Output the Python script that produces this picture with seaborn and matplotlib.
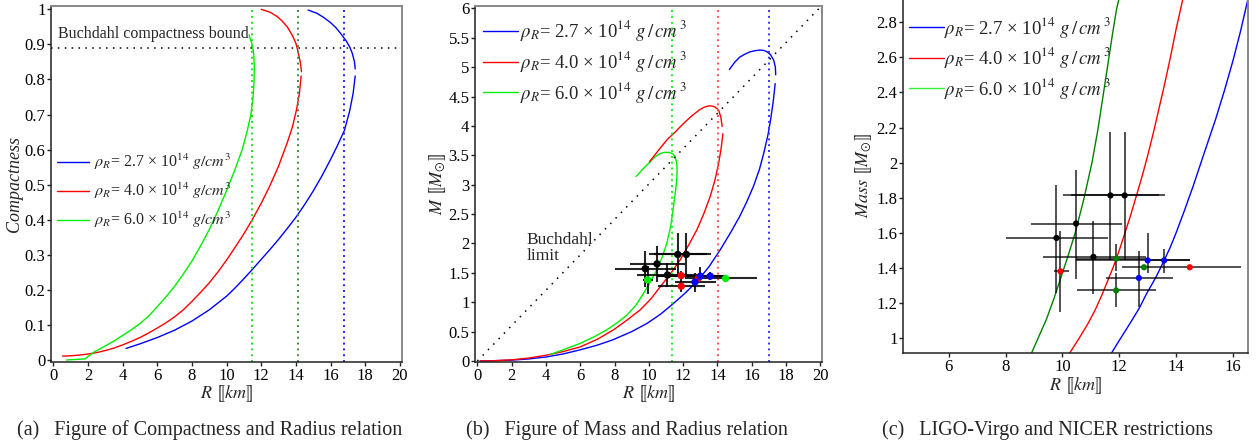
import matplotlib
matplotlib.use("Agg")
import numpy as np
import matplotlib.pyplot as plt
import seaborn as sns
from matplotlib.ticker import FuncFormatter, MultipleLocator

sns.set_theme(style="white")
plt.rcParams['font.family'] = ['Liberation Serif', 'DejaVu Serif']
plt.rcParams['mathtext.fontset'] = 'stix'

# ---- panel (a): compactness vs radius ----
a_blue_lo_R = [4.2, 5, 6, 7, 8, 9, 10, 10.5, 11, 11.5, 12, 12.5, 13, 13.5, 14, 14.5, 15, 15.5, 16,
               16.4, 16.8, 17.1, 17.3, 17.42]
a_blue_lo_C = [0.033, 0.046, 0.064, 0.085, 0.111, 0.143, 0.182, 0.206, 0.232, 0.259, 0.287, 0.315,
               0.344, 0.375, 0.407, 0.443, 0.482, 0.525, 0.572, 0.612, 0.655, 0.71, 0.76, 0.81]
a_blue_hi_R = [17.42, 17.38, 17.25, 17.1, 16.9, 16.6, 16.3, 16.0, 15.6, 15.2, 14.7]
a_blue_hi_C = [0.83, 0.85, 0.875, 0.893, 0.91, 0.93, 0.948, 0.962, 0.977, 0.989, 0.998]
a_red_lo_R = [0.54, 1, 1.5, 2, 2.5, 3, 3.5, 4, 4.5, 5, 5.5, 6, 6.5, 7, 7.5, 8, 8.5, 9, 9.5, 10,
              10.5, 11, 11.5, 12, 12.5, 13, 13.5, 13.8, 14.04, 14.2, 14.3]
a_red_lo_C = [0.011, 0.012, 0.014, 0.017, 0.021, 0.027, 0.034, 0.043, 0.053, 0.064, 0.077, 0.091,
              0.106, 0.123, 0.143, 0.167, 0.193, 0.22, 0.251, 0.285, 0.322, 0.36, 0.402, 0.447,
              0.497, 0.553, 0.62, 0.665, 0.715, 0.76, 0.81]
a_red_hi_R = [14.32, 14.25, 14.12, 14.0, 13.8, 13.5, 13.2, 12.9, 12.5, 12.0]
a_red_hi_C = [0.822, 0.85, 0.88, 0.903, 0.925, 0.95, 0.967, 0.98, 0.992, 1.0]
a_green_R = [0.77, 1.83, 2.3, 3, 3.5, 4, 4.5, 5, 5.5, 6, 6.5, 7, 7.5, 8, 8.5, 9, 9.5, 10, 10.5,
             10.9, 11.2, 11.4, 11.52, 11.58, 11.6, 11.57, 11.5, 11.3]
a_green_C = [0.0, 0.003, 0.021, 0.04, 0.054, 0.07, 0.086, 0.104, 0.125, 0.152, 0.18, 0.21, 0.245,
             0.282, 0.325, 0.372, 0.425, 0.483, 0.545, 0.6, 0.655, 0.7, 0.745, 0.79, 0.836, 0.87,
             0.895, 0.927]
a_vlines = [11.48, 14.1, 16.8]
a_vline_colors = ['#22dd22', '#3d8c3d', '#2222ff']
buchdahl_C = 0.889

# ---- panel (b): mass vs radius ----
b_blue_lo_R = [0.16, 1, 2, 3, 4.05, 5, 6, 7, 7.9, 9, 9.9, 10.7, 11.44, 12.1, 12.8, 13.5, 14.16,
               14.8, 15.3, 15.7, 16.1, 16.45, 16.7, 16.95, 17.1, 17.25, 17.37]
b_blue_lo_M = [0.0, 0.005, 0.015, 0.035, 0.07, 0.12, 0.19, 0.27, 0.36, 0.5, 0.64, 0.8, 0.98, 1.15,
               1.35, 1.6, 1.89, 2.2, 2.46, 2.7, 2.97, 3.26, 3.53, 3.85, 4.1, 4.4, 4.72]
b_blue_hi_R = [17.4, 17.38, 17.28, 17.1, 16.9, 16.7, 16.5, 16.2, 15.9, 15.6, 15.3, 15.0, 14.7]
b_blue_hi_M = [4.87, 5.0, 5.12, 5.21, 5.26, 5.285, 5.29, 5.28, 5.26, 5.22, 5.17, 5.08, 4.96]
b_red_lo_R = [0.16, 1, 2, 3, 4.05, 5, 6, 7, 7.94, 8.7, 9.5, 10.1, 10.66, 11.25, 11.83, 12.3, 12.8,
              13.2, 13.58, 13.85, 14.07, 14.22, 14.32]
b_red_lo_M = [0.0, 0.005, 0.02, 0.05, 0.10, 0.16, 0.24, 0.37, 0.53, 0.69, 0.87, 1.05, 1.26, 1.48,
              1.72, 1.96, 2.23, 2.5, 2.8, 3.07, 3.36, 3.62, 3.87]
b_red_hi_R = [14.28, 14.2, 14.07, 13.87, 13.68, 13.48, 13.25, 12.99, 12.5, 12.02, 11.55, 11.05,
              10.55, 10.04]
b_red_hi_M = [3.99, 4.15, 4.27, 4.32, 4.34, 4.34, 4.32, 4.28, 4.17, 4.04, 3.9, 3.76, 3.58, 3.39]
b_green_R = [4.24, 5, 6, 6.8, 7.55, 8.2, 8.72, 9.25, 9.69, 10.1, 10.47, 10.78, 11.05, 11.28, 11.44,
             11.56, 11.63, 11.65, 11.63, 11.54, 11.38, 11.15, 10.9, 10.66, 10.35, 10.08, 9.7, 9.26]
b_green_M = [0.11, 0.19, 0.30, 0.41, 0.53, 0.66, 0.78, 0.95, 1.15, 1.35, 1.55, 1.77, 2.0, 2.3, 2.63,
             2.9, 3.08, 3.25, 3.36, 3.48, 3.53, 3.55, 3.55, 3.53, 3.47, 3.39, 3.28, 3.14]
b_vlines = [11.38, 14.03, 17.0]
b_vline_colors = ['#22ee22', '#ff5555', '#3333ff']
buchdahl_R = [0, 20]
buchdahl_M = [0, 6.02]

# ---- panel (c): zoom with observations ----
c_green_R = [8.91, 9.17, 9.43, 9.7, 9.96, 10.2, 10.45, 10.75, 11.04, 11.25, 11.43, 11.6, 11.75,
             11.9, 11.99]
c_green_M = [0.914, 1.01, 1.105, 1.225, 1.352, 1.47, 1.6, 1.79, 2.0, 2.19, 2.38, 2.56, 2.72, 2.87,
             2.933]
c_red_R = [10.25, 10.55, 10.87, 11.15, 11.4, 11.6, 11.8, 12.0, 12.2, 12.4, 12.6, 12.8, 13.0, 13.2,
           13.4, 13.6, 13.8, 14.0, 14.24]
c_red_M = [0.914, 0.99, 1.075, 1.16, 1.25, 1.33, 1.41, 1.5, 1.6, 1.7, 1.81, 1.92, 2.04, 2.17, 2.31,
           2.45, 2.6, 2.76, 2.933]
c_blue_R = [11.72, 12.05, 12.4, 12.7, 12.95, 13.3, 13.58, 13.8, 14.0, 14.3, 14.6, 15.0, 15.39,
            15.7, 16.0, 16.27, 16.53]
c_blue_M = [0.914, 1.0, 1.09, 1.17, 1.25, 1.35, 1.443, 1.52, 1.6, 1.73, 1.866, 2.06, 2.247, 2.41,
            2.58, 2.75, 2.933]

# observed stars (R, M with ranges)
pt_R = [11.69, 12.19, 10.48, 9.79, 11.09, 11.89, 11.89, 12.87, 14.48, 9.93, 13.00, 13.58, 12.69]
pt_M = [1.813, 1.813, 1.653, 1.571, 1.463, 1.453, 1.272, 1.404, 1.404, 1.381, 1.443, 1.443, 1.343]
pt_Rlo = [10.02, 10.30, 8.91, 8.00, 9.32, 10.49, 10.51, 12.87, 12.10, 9.69, 10.49, 13.00, 11.52]
pt_Rhi = [13.40, 13.60, 12.10, 11.61, 12.94, 12.94, 13.30, 12.87, 16.30, 10.22, 14.48, 14.48, 13.89]
pt_Mlo = [1.447, 1.447, 1.339, 1.26, 1.253, 1.38, 1.18, 1.404, 1.404, 1.148, 1.371, 1.371, 1.18]
pt_Mhi = [2.177, 2.177, 1.958, 1.870, 1.670, 1.539, 1.37, 1.404, 1.404, 1.609, 1.600, 1.510, 1.499]
pt_col_c = ['k', 'k', 'k', 'k', 'k', 'g', 'g', 'g', 'r', 'r', 'b', 'b', 'b']
pt_col_b = ['k', 'k', 'k', 'k', 'k', 'r', 'r', 'r', 'g', 'g', 'b', 'b', 'b']

rho = ['2.7', '4.0', '6.0']
labels_a = [r'$\rho_R$= ' + r + r' × 10$^{14}$ $g/cm^3$' for r in rho]
labels_bc = [r'$\rho_R$= ' + r + r' × 10$^{14}$ $g\,/\,cm^{\,3}$' for r in rho]

BLUE, RED, GREEN, DKGREEN = '#0000ff', '#ff0000', '#00ee00', '#008000'

fig = plt.figure(figsize=(12.6, 4.47), dpi=100)
W, H = 1260, 447
ax_a = fig.add_axes([51 / W, (H - 362) / H, 351 / W, 356 / H])
ax_b = fig.add_axes([475 / W, (H - 362) / H, 347 / W, 356 / H])
ax_c = fig.add_axes([903 / W, (H - 353.3) / H, 345 / W, 354.5 / H])

fmt = FuncFormatter(lambda v, p: f'{v:g}')


def style(ax):
    ax.tick_params(direction='out', length=3, width=1, labelsize=12, pad=1,
                   bottom=True, left=True, colors='#222222')
    ax.tick_params(labelcolor='black')
    for s in ['left', 'bottom']:
        ax.spines[s].set_color('#222222')
        ax.spines[s].set_linewidth(1.1)
    for s in ['top', 'right']:
        ax.spines[s].set_color('#888888')
        ax.spines[s].set_linewidth(1.4)
    ax.xaxis.set_major_formatter(fmt)
    ax.yaxis.set_major_formatter(fmt)


def curve(ax, x, y, c, label=None):
    sns.lineplot(x=x, y=y, sort=False, estimator=None, color=c, lw=1.0, ax=ax, label=label)


# ---------- (a) ----------
ax = ax_a
curve(ax, a_blue_lo_R, a_blue_lo_C, BLUE, labels_a[0])
curve(ax, a_red_lo_R, a_red_lo_C, RED, labels_a[1])
curve(ax, a_green_R, a_green_C, GREEN, labels_a[2])
curve(ax, a_blue_hi_R, a_blue_hi_C, BLUE)
curve(ax, a_red_hi_R, a_red_hi_C, RED)
for xv, cv in zip(a_vlines, a_vline_colors):
    ax.axvline(xv, color=cv, lw=1.4, ls=(0, (1, 2)))
ax.axhline(buchdahl_C, color='black', lw=1.1, ls=(0, (1, 3.5)))
ax.text(0.3, 0.918, 'Buchdahl compactness bound', fontsize=11.5, va='baseline')
ax.set_xlim(-0.13, 20.12)
ax.set_ylim(-0.0057, 1.0095)
ax.xaxis.set_major_locator(MultipleLocator(2))
ax.yaxis.set_major_locator(MultipleLocator(0.1))
style(ax)
ax.set_xlabel(r'$R\ ⟦km⟧$', fontsize=13, labelpad=0)
ax.set_ylabel('Compactness', fontsize=13, style='italic', labelpad=1)
ax.legend(loc='center left', bbox_to_anchor=(0.017, 0.48), frameon=False, borderpad=0,
          borderaxespad=0, handlelength=2.0, handletextpad=0.3, labelspacing=0.55, fontsize=11.5)

# ---------- (b) ----------
ax = ax_b
curve(ax, b_blue_lo_R, b_blue_lo_M, BLUE, labels_bc[0])
curve(ax, b_red_lo_R, b_red_lo_M, RED, labels_bc[1])
curve(ax, b_green_R, b_green_M, GREEN, labels_bc[2])
curve(ax, b_blue_hi_R, b_blue_hi_M, BLUE)
curve(ax, b_red_hi_R, b_red_hi_M, RED)
for xv, cv in zip(b_vlines, b_vline_colors):
    ax.axvline(xv, color=cv, lw=1.4, ls=(0, (1, 2)))
sns.lineplot(x=buchdahl_R, y=buchdahl_M, color='black', lw=1.1, ls=(0, (1, 4)), ax=ax)
ax.text(2.88, 2.2, 'Buchdahl\nlimit', fontsize=12.5, va='top', linespacing=1.05)

pal_b = {'k': 'black', 'r': RED, 'g': GREEN, 'b': BLUE}
pR, pM = np.array(pt_R), np.array(pt_M)
xerr = [pR - np.array(pt_Rlo), np.array(pt_Rhi) - pR]
yerr = [pM - np.array(pt_Mlo), np.array(pt_Mhi) - pM]
ax.errorbar(pt_R, pt_M, xerr=xerr, yerr=yerr, fmt='none', ecolor='black', elinewidth=1.5,
            alpha=0.85, capsize=0, zorder=3)
sns.scatterplot(x=pt_R, y=pt_M, hue=pt_col_b, palette=pal_b, s=28, linewidth=0,
                legend=False, zorder=4, ax=ax)
ax.set_xlim(-0.136, 20.1)
ax.set_ylim(-0.017, 6.04)
ax.xaxis.set_major_locator(MultipleLocator(2))
ax.yaxis.set_major_locator(MultipleLocator(0.5))
style(ax)
ax.set_xlabel(r'$R\ ⟦km⟧$', fontsize=13, labelpad=0)
ax.set_ylabel(r'$M\ ⟦M_{\odot}⟧$', fontsize=13, labelpad=0)
handles, labs = ax.get_legend_handles_labels()
ax.legend(handles[:3], labs[:3], loc='upper left', bbox_to_anchor=(0.023, 0.965), frameon=False,
          borderpad=0, borderaxespad=0, handlelength=1.85, handletextpad=0.15,
          labelspacing=0.3, fontsize=13.5)

# ---------- (c) ----------
ax = ax_c
curve(ax, c_blue_R, c_blue_M, BLUE, labels_bc[0])
curve(ax, c_red_R, c_red_M, RED, labels_bc[1])
curve(ax, c_green_R, c_green_M, DKGREEN, labels_bc[2])
pal_c = {'k': 'black', 'r': RED, 'g': DKGREEN, 'b': BLUE}
ax.errorbar(pt_R, pt_M, xerr=xerr, yerr=yerr, fmt='none', ecolor='black', elinewidth=1.2,
            alpha=0.8, capsize=0, zorder=3)
sns.scatterplot(x=pt_R, y=pt_M, hue=pt_col_c, palette=pal_c, s=20, linewidth=0,
                legend=False, zorder=4, ax=ax)
ax.set_xlim(4.39, 16.53)
ax.set_ylim(0.914, 2.933)
ax.xaxis.set_major_locator(MultipleLocator(2))
ax.yaxis.set_major_locator(MultipleLocator(0.2))
style(ax)
ax.set_xlabel(r'$R\ ⟦km⟧$', fontsize=13, labelpad=0)
ax.set_ylabel(r'$Mass\ ⟦M_{\odot}⟧$', fontsize=13, labelpad=2)
leg = ax.legend(loc='upper left', bbox_to_anchor=(0.017, 0.955), frameon=False,
                borderpad=0, borderaxespad=0, handlelength=1.85, handletextpad=0.0,
                labelspacing=0.3, fontsize=13.5)
leg.legend_handles[2].set_color('#33ee33')

# ---------- captions ----------
cap_y = (H - 430) / H
fig.text(210 / W, cap_y, '(a)   Figure of Compactness and Radius relation', ha='center', va='center', fontsize=14.5)
fig.text(627 / W, cap_y, '(b)   Figure of Mass and Radius relation', ha='center', va='center', fontsize=14.5)
fig.text(1047 / W, cap_y, '(c)   LIGO-Virgo and NICER restrictions', ha='center', va='center', fontsize=14.5)

fig.savefig('out.png', dpi=100)
